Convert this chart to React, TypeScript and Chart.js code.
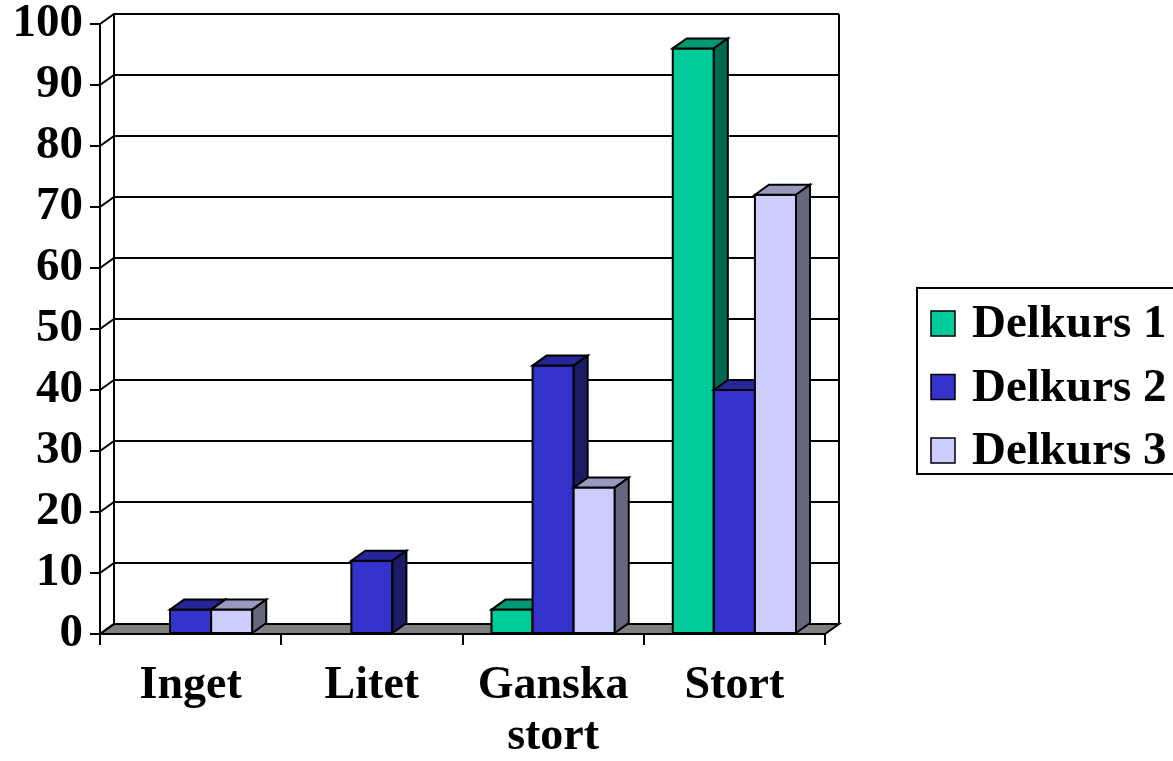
import React, { useEffect, useRef } from "react";
import { Chart, registerables } from "chart.js";

Chart.register(...registerables);

const categories: (string | string[])[] = ["Inget", "Litet", ["Ganska", "stort"], "Stort"];
const seriesNames = ["Delkurs 1", "Delkurs 2", "Delkurs 3"];
const delkurs1 = [0, 0, 4, 96];
const delkurs2 = [4, 12, 44, 40];
const delkurs3 = [4, 0, 24, 72];
const yMin = 0;
const yMax = 100;
const yStep = 10;

const frontColors = ["#00CC99", "#3333CC", "#CCCCFF"];
const topColors = ["#009973", "#262699", "#9999BF"];
const sideColors = ["#006A4F", "#1C1C66", "#666680"];

const DX = 14;
const DY = -10;
const FONT = "'Liberation Serif', 'Times New Roman', serif";
const FS = 46;

const threeD = {
  id: "threeD",
  beforeDatasetsDraw(chart: any) {
    const ctx = chart.ctx;
    const y = chart.scales.y;
    const a = chart.chartArea;
    ctx.save();
    ctx.lineWidth = 2;
    ctx.strokeStyle = "#000";
    const b = y.getPixelForValue(yMin);
    ctx.fillStyle = "#808080";
    ctx.beginPath();
    ctx.moveTo(a.left, b);
    ctx.lineTo(a.right, b);
    ctx.lineTo(a.right + DX, b + DY);
    ctx.lineTo(a.left + DX, b + DY);
    ctx.closePath();
    ctx.fill();
    ctx.stroke();
    for (let v = yMin; v <= yMax; v += yStep) {
      const py = y.getPixelForValue(v);
      ctx.beginPath();
      ctx.moveTo(a.left, py);
      ctx.lineTo(a.left + DX, py + DY);
      ctx.lineTo(a.right + DX, py + DY);
      ctx.stroke();
    }
    const t = y.getPixelForValue(yMax);
    ctx.beginPath();
    ctx.moveTo(a.left + DX, t + DY);
    ctx.lineTo(a.left + DX, b + DY);
    ctx.moveTo(a.right + DX, t + DY);
    ctx.lineTo(a.right + DX, b + DY);
    ctx.stroke();
    ctx.restore();
  },
  afterDatasetsDraw(chart: any) {
    const ctx = chart.ctx;
    const nCat = chart.data.labels.length;
    ctx.save();
    ctx.lineWidth = 2;
    ctx.strokeStyle = "#000";
    ctx.lineJoin = "miter";
    for (let i = 0; i < nCat; i++) {
      for (let d = 0; d < chart.data.datasets.length; d++) {
        const val = chart.data.datasets[d].data[i];
        if (!val) continue;
        const el: any = chart.getDatasetMeta(d).data[i];
        const p = el.getProps(["x", "y", "base", "width"], true);
        const l = p.x - p.width / 2;
        const r = p.x + p.width / 2;
        const top = p.y;
        const base = p.base;
        ctx.fillStyle = frontColors[d];
        ctx.beginPath();
        ctx.rect(l, top, r - l, base - top);
        ctx.fill();
        ctx.stroke();
        ctx.fillStyle = topColors[d];
        ctx.beginPath();
        ctx.moveTo(l, top);
        ctx.lineTo(l + DX, top + DY);
        ctx.lineTo(r + DX, top + DY);
        ctx.lineTo(r, top);
        ctx.closePath();
        ctx.fill();
        ctx.stroke();
        ctx.fillStyle = sideColors[d];
        ctx.beginPath();
        ctx.moveTo(r, top);
        ctx.lineTo(r + DX, top + DY);
        ctx.lineTo(r + DX, base + DY);
        ctx.lineTo(r, base);
        ctx.closePath();
        ctx.fill();
        ctx.stroke();
      }
    }
    ctx.restore();
  },
  afterDraw(chart: any) {
    const ctx = chart.ctx;
    ctx.save();
    const bx = 917, by = 288, bw = 270, bh = 186;
    ctx.lineWidth = 2;
    ctx.strokeStyle = "#000";
    ctx.strokeRect(bx, by, bw, bh);
    ctx.font = `bold 47px ${FONT}`;
    ctx.textBaseline = "alphabetic";
    ctx.textAlign = "left";
    chart.data.datasets.forEach((ds: any, i: number) => {
      const cy = 323 + i * 63.5;
      ctx.fillStyle = frontColors[i];
      ctx.fillRect(931, cy - 12, 24, 25);
      ctx.lineWidth = 1.5;
      ctx.strokeRect(931, cy - 12, 24, 25);
      ctx.fillStyle = "#000";
      ctx.fillText(ds.label, 972, cy + 14);
    });
    ctx.restore();
  },
};

export default function App() {
  const ref = useRef<HTMLCanvasElement>(null);
  useEffect(() => {
    document.body.style.margin = "0";
    const seriesData = [delkurs1, delkurs2, delkurs3];
    const chart = new Chart(ref.current!, {
      type: "bar",
      data: {
        labels: categories as any,
        datasets: seriesNames.map((name, i) => ({
          label: name,
          data: seriesData[i],
          backgroundColor: frontColors[i],
          borderColor: "#000",
          borderWidth: 2,
          borderSkipped: false,
          categoryPercentage: 0.68,
          barPercentage: 1.0,
        })),
      },
      options: {
        responsive: false,
        animation: false,
        devicePixelRatio: 1,
        layout: { padding: { left: 12, right: 348, top: 24, bottom: 0 } },
        plugins: { legend: { display: false }, tooltip: { enabled: false } },
        scales: {
          x: {
            grid: {
              offset: true,
              drawOnChartArea: false,
              drawTicks: true,
              tickLength: 11,
              color: "#000",
              lineWidth: 2,
            },
            border: { display: true, color: "#000", width: 2 },
            ticks: {
              color: "#000",
              font: { family: FONT, size: FS, weight: "bold", lineHeight: 1.1 },
              padding: 16,
              maxRotation: 0,
              autoSkip: false,
            },
            afterFit: (s: any) => {
              s.height = 127;
              s.paddingLeft = 0;
              s.paddingRight = 0;
            },
          },
          y: {
            min: yMin,
            max: yMax,
            ticks: {
              stepSize: yStep,
              color: "#000",
              font: { family: FONT, size: 47, weight: "bold", lineHeight: 1.0 },
              padding: 7,
            },
            grid: {
              drawOnChartArea: false,
              drawTicks: true,
              tickLength: 10,
              color: "#000",
              lineWidth: 2,
            },
            border: { display: true, color: "#000", width: 2 },
            afterFit: (s: any) => {
              s.width = 88;
              s.paddingTop = 0;
              s.paddingBottom = 0;
            },
          },
        },
      },
      plugins: [threeD],
    });
    return () => chart.destroy();
  }, []);
  return (
    <div style={{ width: 1173, height: 761, overflow: "hidden", background: "#fff" }}>
      <canvas ref={ref} width={1173} height={761} style={{ display: "block" }} />
    </div>
  );
}
